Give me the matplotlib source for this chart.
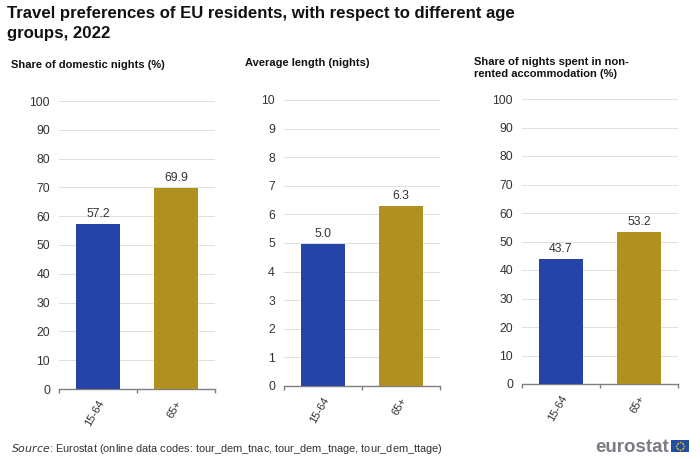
import numpy as np
import matplotlib
matplotlib.use("Agg")
import matplotlib.pyplot as plt
from matplotlib.patches import Rectangle

plt.rcParams['font.family'] = ['Liberation Sans', 'DejaVu Sans']

# data
age_groups = ["15-64", "65+"]
domestic_nights = [57.2, 69.9]
average_length = [4.96, 6.3]
non_rented_nights = [43.7, 53.2]

chart_titles = ["Share of domestic nights (%)",
                "Average length (nights)",
                "Share of nights spent in non-\nrented accommodation (%)"]
title_text = "Travel preferences of EU residents, with respect to different age\ngroups, 2022"

W, H = 700, 459
blue = "#2644a7"
gold = "#b09120"
axis_col = "#7f7f7f"
grid_col = "#dedede"
text_col = "#333333"


def make_ax(fig, x0, x1, y0, y1):
    # pixel box -> figure fractions, y0 is the baseline
    return fig.add_axes([x0 / W, 1 - y0 / H, (x1 - x0) / W, (y0 - y1) / H])


def draw_chart(ax, values, ymax, step):
    ax.bar([0, 1], values, width=0.57, color=[blue, gold], zorder=3)
    ax.set_xlim(-0.5, 1.5)
    ax.set_ylim(0, ymax)
    ax.set_yticks(np.arange(0, ymax + step, step))
    ax.yaxis.grid(True, color=grid_col, lw=0.7, zorder=0)
    ax.set_axisbelow(True)
    for s in ["top", "right", "left"]:
        ax.spines[s].set_visible(False)
    ax.spines["bottom"].set_color(axis_col)
    ax.spines["bottom"].set_linewidth(1.0)
    ax.tick_params(axis="y", length=0, pad=6.5, labelsize=8.8, labelcolor=text_col)
    # ticks sit between the categories, labels stay under the bars
    ax.set_xticks([-0.5, 0.5, 1.5])
    ax.set_xticklabels([])
    ax.tick_params(axis="x", length=3, width=1.0, color=axis_col)
    for i, lab in enumerate(age_groups):
        ax.annotate(lab, (i, 0), xycoords=("data", "axes fraction"),
                    xytext=(-0.5, -7), textcoords="offset points", rotation=60,
                    ha="right", va="top", rotation_mode="anchor",
                    fontsize=8, color=text_col)
    for i, v in enumerate(values):
        ax.annotate(f"{v:.1f}", (i, v), xytext=(0, 3), textcoords="offset points",
                    ha="center", va="bottom", fontsize=8.8, color=text_col)


fig = plt.figure(figsize=(7, 4.59), dpi=100)

ax1 = make_ax(fig, 59, 215, 389, 101)
draw_chart(ax1, domestic_nights, 100, 10)
ax2 = make_ax(fig, 284, 440, 386, 100)
draw_chart(ax2, average_length, 10, 1)
ax3 = make_ax(fig, 522, 678, 384, 99)
draw_chart(ax3, non_rented_nights, 100, 10)

fig.text(7 / W, 1 - 6 / H, title_text, fontsize=12.1, fontweight="bold",
         va="top", ha="left", color="#111111", linespacing=1.4)
fig.text(11 / W, 1 - 65 / H, chart_titles[0], fontsize=8, fontweight="bold",
         va="center", color="#111111")
fig.text(245 / W, 1 - 63 / H, chart_titles[1], fontsize=8, fontweight="bold",
         va="center", color="#111111")
fig.text(474 / W, 1 - 68 / H, chart_titles[2], fontsize=8, fontweight="bold",
         va="center", color="#111111", linespacing=1.35)

fig.text(11 / W, 1 - 449 / H,
         r"$\mathit{Source}$" + ": Eurostat (online data codes: tour_dem_tnac, tour_dem_tnage, tour_dem_ttage)",
         fontsize=7.95, va="center", color=text_col)

# eurostat logo
fig.text(595 / W, 1 - 447 / H, "eurostat", fontsize=13.5, fontweight="bold",
         va="center", ha="left", color="#7a7d85")
fig.add_artist(Rectangle((671 / W, 1 - 452 / H), 18 / W, 12 / H,
                         transform=fig.transFigure, color="#1f4ea3", lw=0, zorder=-1))
angles = np.arange(12) * np.pi / 6
star_ax = fig.add_axes([671 / W, 1 - 452 / H, 18 / W, 12 / H])
star_ax.set_xlim(-9, 9)
star_ax.set_ylim(-6, 6)
star_ax.axis("off")
star_ax.scatter(4 * np.cos(angles), 4 * np.sin(angles), s=1.2, color="#e6c228", lw=0)

fig.savefig("out.png", dpi=100)
